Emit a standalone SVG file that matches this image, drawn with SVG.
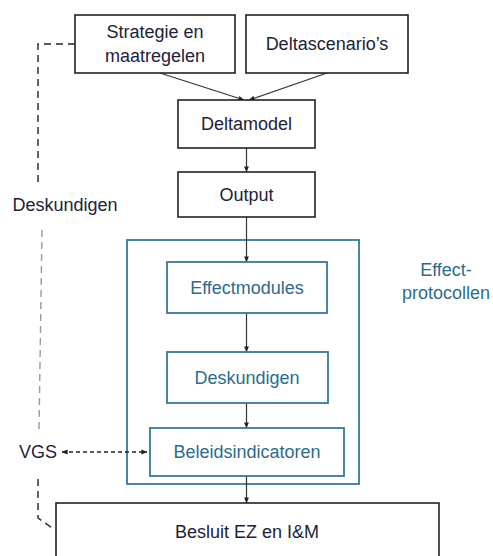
<svg xmlns="http://www.w3.org/2000/svg" width="493" height="556" viewBox="0 0 493 556">
  <style>
    .box { fill: #ffffff; stroke: #222222; stroke-width: 1.6; }
    .tbox { fill: #ffffff; stroke: #3a7797; stroke-width: 1.8; }
    .frame { fill: none; stroke: #3a7797; stroke-width: 1.8; }
    .txt { font-family: "Liberation Sans", Arial, sans-serif; font-size: 18px; fill: #1e2238; text-anchor: middle; }
    .ttxt { font-family: "Liberation Sans", Arial, sans-serif; font-size: 18px; fill: #2c6c8c; text-anchor: middle; }
    .flow { fill: none; stroke: #333333; stroke-width: 1.2; }
    .dash { fill: none; stroke: #222222; stroke-width: 1.4; stroke-dasharray: 7 5; }
    .dashgrey { fill: none; stroke: #999999; stroke-width: 1.4; stroke-dasharray: 7 5; }
    .dot { fill: none; stroke: #222222; stroke-width: 1.3; stroke-dasharray: 4 3; }
  </style>
  <defs>
    <marker id="arr" viewBox="0 0 8 8" refX="7.5" refY="4" markerWidth="6" markerHeight="6" orient="auto-start-reverse" markerUnits="userSpaceOnUse">
      <path d="M0,0.8 L8,4 L0,7.2 Z" fill="#222222"/>
    </marker>
  </defs>

  <!-- Effect-protocollen frame -->
  <g id="effectprotocollen">
    <rect class="frame" x="127" y="240" width="232" height="244"/>
    <text class="ttxt" x="446" y="276">Effect-</text>
    <text class="ttxt" x="446" y="299">protocollen</text>
  </g>

  <!-- connectors -->
  <g id="connectors">
    <line class="flow" x1="160" y1="73" x2="244" y2="100" marker-end="url(#arr)"/>
    <line class="flow" x1="327" y1="73" x2="249" y2="100" marker-end="url(#arr)"/>
    <line class="flow" x1="246.5" y1="148" x2="246.5" y2="172" marker-end="url(#arr)"/>
    <line class="flow" x1="246.5" y1="217" x2="246.5" y2="262" marker-end="url(#arr)"/>
    <line class="flow" x1="246.5" y1="313" x2="246.5" y2="352" marker-end="url(#arr)"/>
    <line class="flow" x1="246.5" y1="403" x2="246.5" y2="428" marker-end="url(#arr)"/>
    <line class="flow" x1="246.5" y1="476" x2="246.5" y2="503" marker-end="url(#arr)"/>
    <!-- expert feedback loop on the left -->
    <polyline class="dash" points="75,44 38,44 38,183"/>
    <line class="dashgrey" x1="42" y1="230" x2="39" y2="430"/>
    <polyline class="dash" points="38,479 38,518 55,530"/>
    <!-- VGS exchange -->
    <line class="dot" x1="62" y1="452" x2="147" y2="452" marker-start="url(#arr)" marker-end="url(#arr)"/>
  </g>

  <g id="strategie">
    <rect class="box" x="75" y="15" width="160" height="58"/>
    <text class="txt" x="155" y="38">Strategie en</text>
    <text class="txt" x="155" y="62">maatregelen</text>
  </g>

  <g id="deltascenarios">
    <rect class="box" x="246" y="15" width="162" height="58"/>
    <text class="txt" x="327" y="50">Deltascenario’s</text>
  </g>

  <g id="deltamodel">
    <rect class="box" x="178" y="100" width="137" height="48"/>
    <text class="txt" x="246.5" y="130">Deltamodel</text>
  </g>

  <g id="output">
    <rect class="box" x="178" y="172" width="137" height="45"/>
    <text class="txt" x="246.5" y="201">Output</text>
  </g>

  <g id="effectmodules">
    <rect class="tbox" x="167" y="262" width="160" height="51"/>
    <text class="ttxt" x="247" y="294">Effectmodules</text>
  </g>

  <g id="deskundigen-box">
    <rect class="tbox" x="167" y="352" width="161" height="51"/>
    <text class="ttxt" x="247" y="384">Deskundigen</text>
  </g>

  <g id="beleidsindicatoren">
    <rect class="tbox" x="150" y="428" width="194" height="48"/>
    <text class="ttxt" x="247" y="458">Beleidsindicatoren</text>
  </g>

  <g id="besluit">
    <rect class="box" x="56" y="503" width="383" height="70"/>
    <text class="txt" x="247" y="538">Besluit EZ en I&amp;M</text>
  </g>

  <g id="deskundigen-label">
    <text class="txt" x="65" y="211">Deskundigen</text>
  </g>

  <g id="vgs">
    <text class="txt" x="38" y="458">VGS</text>
  </g>
</svg>
